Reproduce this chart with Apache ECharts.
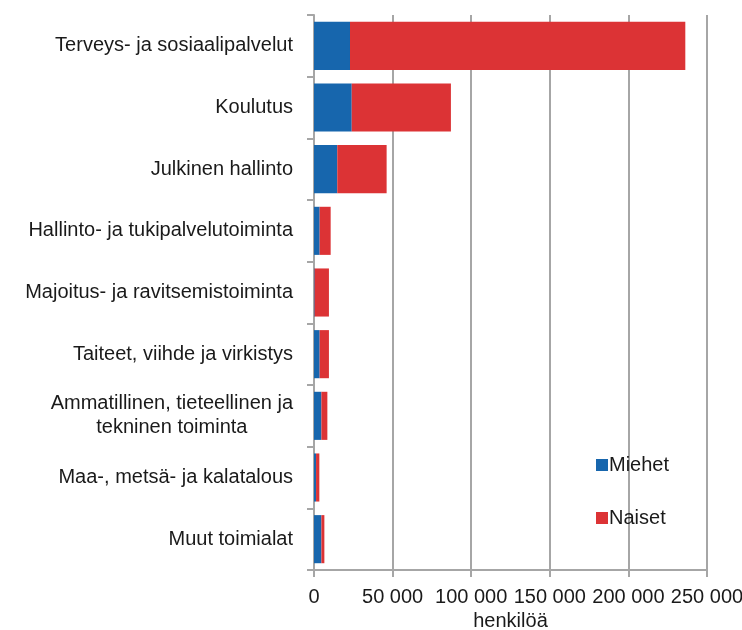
<!DOCTYPE html>
<html>
<head>
<meta charset="utf-8">
<script src="https://cdn.jsdelivr.net/npm/echarts@6/dist/echarts.min.js"></script>
<style>
  html, body { margin: 0; padding: 0; background: #fff; }
  #chart { width: 742px; height: 630px; }
</style>
</head>
<body>
<div id="chart"></div>
<script>
// toimialat ylhäältä alas
var categories = [
  'Terveys- ja sosiaalipalvelut',
  'Koulutus',
  'Julkinen hallinto',
  'Hallinto- ja tukipalvelutoiminta',
  'Majoitus- ja ravitsemistoiminta',
  'Taiteet, viihde ja virkistys',
  'Ammatillinen, tieteellinen ja\ntekninen toiminta',
  'Maa-, metsä- ja kalatalous',
  'Muut toimialat'
];
var miehet = [22900, 24000, 14800, 3600, 400, 3600, 4700, 1300, 4700];
var naiset = [213300, 63100, 31400, 7000, 9100, 5900, 3800, 2100, 1900];
var xTicks = [0, 50000, 100000, 150000, 200000, 250000];

var myChart = echarts.init(document.getElementById('chart'));

var fontFamily = 'Liberation Sans, Arial, sans-serif';
var gray = '#a6a6a6';

var option = {
  backgroundColor: '#fff',
  animation: false,
  textStyle: { fontFamily: fontFamily },
  grid: { left: 314, right: 35, top: 15, bottom: 60, containLabel: false, outerBoundsMode: 'none' },
  legend: {
    orient: 'vertical',
    left: 591,
    top: 450,
    itemWidth: 12,
    itemHeight: 12,
    itemGap: 33,
    icon: 'rect',
    textStyle: { fontSize: 20, color: '#1a1a1a', fontFamily: fontFamily, padding: [0, 0, 0, -4] },
    data: ['Miehet', 'Naiset']
  },
  xAxis: {
    type: 'value',
    min: xTicks[0],
    max: xTicks[xTicks.length - 1],
    interval: xTicks[1] - xTicks[0],
    name: 'henkilöä',
    nameLocation: 'middle',
    nameGap: 41,
    nameTextStyle: { fontSize: 20, color: '#1a1a1a' },
    axisLine: { show: true, lineStyle: { color: gray, width: 2 } },
    axisTick: { show: true, length: 7, lineStyle: { color: gray, width: 2 } },
    splitLine: { show: true, lineStyle: { color: gray, width: 2 } },
    axisLabel: {
      fontSize: 20,
      color: '#1a1a1a',
      margin: 17,
      showMinLabel: true,
      showMaxLabel: true,
      formatter: function (v) {
        return String(v).replace(/\B(?=(\d{3})+(?!\d))/g, ' ');
      }
    }
  },
  yAxis: {
    type: 'category',
    inverse: true,
    data: categories,
    axisLine: { show: true, lineStyle: { color: gray, width: 2 } },
    axisTick: { show: true, length: 7, lineStyle: { color: gray, width: 2 } },
    splitLine: { show: false },
    axisLabel: {
      fontSize: 20,
      color: '#1a1a1a',
      margin: 21,
      lineHeight: 24,
      formatter: function (v) {
        if (v.indexOf('\n') >= 0) {
          return v.split('\n').map(function (s) { return '{c|' + s + '}'; }).join('\n');
        }
        return v;
      },
      rich: {
        c: { align: 'center', fontSize: 20, color: '#1a1a1a', lineHeight: 24 }
      }
    }
  },
  series: [
    {
      name: 'Miehet',
      type: 'bar',
      stack: 'total',
      barCategoryGap: '22%',
      itemStyle: { color: '#1766ad' },
      data: miehet
    },
    {
      name: 'Naiset',
      type: 'bar',
      stack: 'total',
      barCategoryGap: '22%',
      itemStyle: { color: '#dc3335' },
      data: naiset
    }
  ]
};

myChart.setOption(option);
</script>
</body>
</html>
